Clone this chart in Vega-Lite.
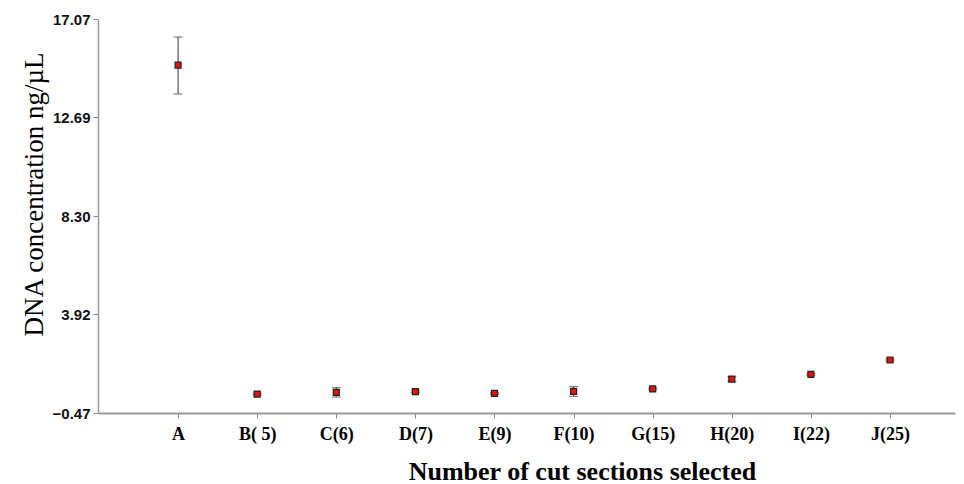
{
  "$schema": "https://vega.github.io/schema/vega-lite/v6.json",
  "width": 857,
  "height": 394,
  "autosize": {"type": "none"},
  "padding": {"left": 98, "top": 19, "right": 9, "bottom": 71},
  "background": "white",
  "config": {"view": {"stroke": null}},
  "data": {
    "values": [
      {"group": "A", "mean": 15.02, "lo": 13.73, "hi": 16.27},
      {"group": "B( 5)", "mean": 0.37, "lo": 0.33, "hi": 0.41},
      {"group": "C(6)", "mean": 0.45, "lo": 0.24, "hi": 0.66},
      {"group": "D(7)", "mean": 0.48, "lo": 0.44, "hi": 0.52},
      {"group": "E(9)", "mean": 0.40, "lo": 0.36, "hi": 0.44},
      {"group": "F(10)", "mean": 0.49, "lo": 0.27, "hi": 0.71},
      {"group": "G(15)", "mean": 0.60, "lo": 0.56, "hi": 0.64},
      {"group": "H(20)", "mean": 1.04, "lo": 0.94, "hi": 1.14},
      {"group": "I(22)", "mean": 1.25, "lo": 1.21, "hi": 1.29},
      {"group": "J(25)", "mean": 1.89, "lo": 1.85, "hi": 1.93}
    ]
  },
  "encoding": {
    "x": {
      "field": "group",
      "type": "ordinal",
      "sort": null,
      "scale": {"type": "point", "padding": 0.917, "align": 0.552},
      "axis": {
        "title": "Number of cut sections selected",
        "titleFont": "Liberation Serif",
        "titleFontSize": 26,
        "titleFontWeight": "bold",
        "titleColor": "#000",
        "titlePadding": 15,
        "titleX": 484,
        "labelAngle": 0,
        "labelFont": "Liberation Serif",
        "labelFontSize": 18,
        "labelFontWeight": "bold",
        "labelColor": "#000",
        "labelPadding": 7,
        "tickSize": 5,
        "tickColor": "#888",
        "domainColor": "#999",
        "domainWidth": 2,
        "grid": false
      }
    }
  },
  "layer": [
    {
      "mark": {"type": "rule", "color": "#555", "strokeWidth": 1.2},
      "encoding": {
        "y": {
          "field": "lo",
          "type": "quantitative",
          "scale": {"domain": [-0.47, 17.07], "nice": false, "zero": false},
          "axis": {
            "title": "DNA concentration ng/µL",
            "titleFont": "Liberation Serif",
            "titleFontSize": 27,
            "titleFontWeight": "normal",
            "titleColor": "#000",
            "titlePadding": 4,
            "titleY": 175,
            "values": [-0.47, 3.92, 8.30, 12.69, 17.07],
            "format": ".2f",
            "labelFont": "Liberation Sans",
            "labelFontSize": 15,
            "labelFontWeight": "bold",
            "labelColor": "#111",
            "labelPadding": 3,
            "tickSize": 5,
            "tickColor": "#888",
            "domainColor": "#999",
            "domainWidth": 1.5,
            "grid": false
          }
        },
        "y2": {"field": "hi"}
      }
    },
    {
      "mark": {"type": "tick", "color": "#555", "thickness": 1.2, "size": 9, "orient": "horizontal"},
      "encoding": {"y": {"field": "lo", "type": "quantitative"}}
    },
    {
      "mark": {"type": "tick", "color": "#555", "thickness": 1.2, "size": 9, "orient": "horizontal"},
      "encoding": {"y": {"field": "hi", "type": "quantitative"}}
    },
    {
      "mark": {"type": "point", "shape": "square", "filled": true, "size": 36, "fill": "#e8140c", "stroke": "#222", "strokeWidth": 1.2, "opacity": 1},
      "encoding": {"y": {"field": "mean", "type": "quantitative"}}
    }
  ]
}
